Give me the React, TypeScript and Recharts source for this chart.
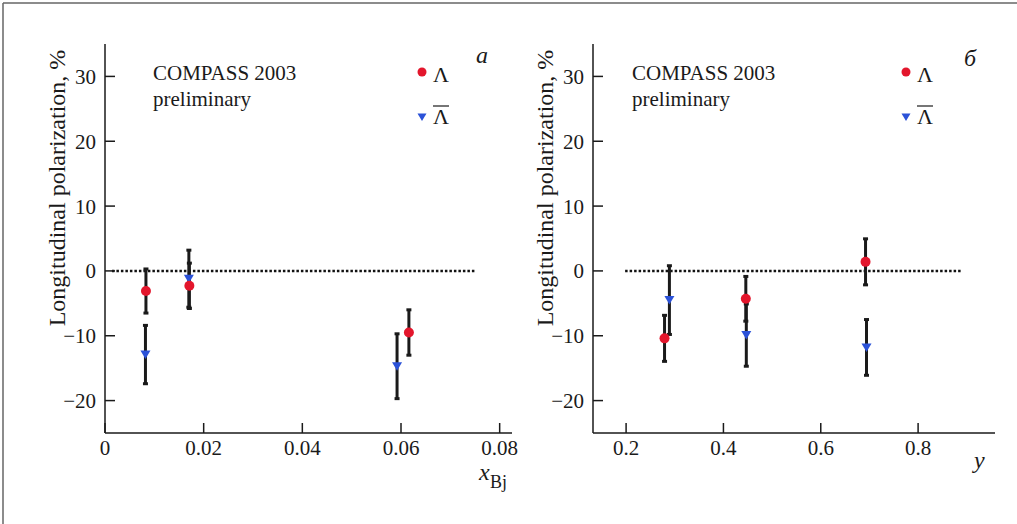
import React from "react";
import {
  ScatterChart,
  Scatter,
  XAxis,
  YAxis,
  ErrorBar,
  ReferenceLine,
} from "recharts";

// panel a: polarization vs x_Bj
const xbjLambda = [0.0083, 0.0171, 0.0616];
const polLambdaA = [-3.1, -2.3, -9.5];
const errLambdaA = [3.4, 3.5, 3.5];
const xbjAnti = [0.0082, 0.017, 0.0592];
const polAntiA = [-12.9, -1.2, -14.7];
const errAntiA = [4.5, 4.4, 5.0];

// panel б: polarization vs y
const yLambda = [0.279, 0.446, 0.692];
const polLambdaB = [-10.4, -4.3, 1.4];
const errLambdaB = [3.55, 3.45, 3.55];
const yAnti = [0.289, 0.447, 0.694];
const polAntiB = [-4.5, -9.9, -11.8];
const errAntiB = [5.3, 4.8, 4.3];

const yTicks = [-20, -10, 0, 10, 20, 30];
const xbjTicks = [0, 0.02, 0.04, 0.06, 0.08];
const yvarTicks = [0.2, 0.4, 0.6, 0.8];

const FONT = "'Liberation Serif', 'Times New Roman', serif";
const RED = "#e3162c";
const BLUE = "#2b52d8";
const INK = "#1a1a1a";

const zip = (xs: number[], ps: number[], es: number[]) =>
  xs.map((x, i) => ({ x, p: ps[i], err: es[i] }));

const Dot = (props: any) => (
  <circle cx={props.cx} cy={props.cy} r={5} fill={RED} />
);

const Tri = (props: any) => {
  const { cx, cy } = props;
  return (
    <polygon
      points={`${cx - 5},${cy - 4} ${cx + 5},${cy - 4} ${cx},${cy + 4.5}`}
      fill={BLUE}
    />
  );
};

const fmtY = (v: number) => (v < 0 ? "\u2212" + Math.abs(v) : String(v));

function Panel({
  width,
  rightGap,
  domain,
  ticks,
  fmt,
  lambda,
  anti,
  zeroFrom,
  zeroTo,
}: {
  width: number;
  rightGap: number;
  domain: [number, number];
  ticks: number[];
  fmt: (v: number) => string;
  lambda: { x: number; p: number; err: number }[];
  anti: { x: number; p: number; err: number }[];
  zeroFrom: number;
  zeroTo: number;
}) {
  const tickStyle = { fontFamily: FONT, fontSize: 21, fill: INK };
  return (
    <ScatterChart
      width={width}
      height={524}
      margin={{ top: 44, right: rightGap, bottom: 61, left: 45 }}
    >
      <XAxis
        type="number"
        dataKey="x"
        domain={domain}
        ticks={ticks}
        tickFormatter={fmt}
        allowDataOverflow
        stroke={INK}
        strokeWidth={1.5}
        tickSize={-10}
        tickMargin={17}
        tick={tickStyle}
      />
      <YAxis
        type="number"
        dataKey="p"
        domain={[-25, 35]}
        ticks={yTicks}
        tickFormatter={fmtY}
        allowDataOverflow
        stroke={INK}
        strokeWidth={1.5}
        tickSize={-10}
        tickMargin={19}
        tick={tickStyle}
        width={60}
      />
      <ReferenceLine
        segment={[
          { x: zeroFrom, y: 0 },
          { x: zeroTo, y: 0 },
        ]}
        stroke="#111"
        strokeWidth={2.5}
        strokeDasharray="2.5 2"
      />
      <Scatter data={anti} shape={Tri} isAnimationActive={false}>
        <ErrorBar dataKey="err" direction="y" width={2.5} strokeWidth={3} stroke={INK} />
      </Scatter>
      <Scatter data={lambda} shape={Dot} isAnimationActive={false}>
        <ErrorBar dataKey="err" direction="y" width={2.5} strokeWidth={3} stroke={INK} />
      </Scatter>
    </ScatterChart>
  );
}

function Legend({ x }: { x: number }) {
  return (
    <g>
      <circle cx={x} cy={72} r={4.5} fill={RED} />
      <text x={x + 11} y={82} fontSize={22}>Λ</text>
      <polygon points={`${x - 4.5},${113.5} ${x + 4.5},${113.5} ${x},${121}`} fill={BLUE} />
      <line x1={x + 11} x2={x + 27} y1={106} y2={106} stroke={INK} strokeWidth={1.2} />
      <text x={x + 11} y={124} fontSize={22}>Λ</text>
    </g>
  );
}

export default function App() {
  return (
    <div
      style={{
        position: "absolute",
        left: 0,
        top: 0,
        width: 1017,
        height: 524,
        background: "#fff",
        fontFamily: FONT,
      }}
    >
      <div style={{ position: "absolute", left: 0, top: 0 }}>
        <Panel
          width={520}
          rightGap={8}
          domain={[0, 0.0825]}
          ticks={xbjTicks}
          fmt={(v) => (v === 0 ? "0" : v.toFixed(2))}
          lambda={zip(xbjLambda, polLambdaA, errLambdaA)}
          anti={zip(xbjAnti, polAntiA, errAntiA)}
          zeroFrom={0.0014}
          zeroTo={0.075}
        />
      </div>
      <div style={{ position: "absolute", left: 488, top: 0 }}>
        <Panel
          width={529}
          rightGap={22}
          domain={[0.132, 0.958]}
          ticks={yvarTicks}
          fmt={(v) => v.toFixed(1)}
          lambda={zip(yLambda, polLambdaB, errLambdaB)}
          anti={zip(yAnti, polAntiB, errAntiB)}
          zeroFrom={0.198}
          zeroTo={0.891}
        />
      </div>
      <svg
        width={1017}
        height={524}
        style={{ position: "absolute", left: 0, top: 0, pointerEvents: "none" }}
        fontFamily={FONT}
        fill={INK}
      >
        <line x1={3} y1={3} x2={1017} y2={3} stroke="#666" strokeWidth={1.5} />
        <line x1={3} y1={3} x2={3} y2={524} stroke="#666" strokeWidth={1.5} />

        <text transform="translate(65,188) rotate(-90)" textAnchor="middle" fontSize={24}>
          Longitudinal polarization, %
        </text>
        <text transform="translate(553,188) rotate(-90)" textAnchor="middle" fontSize={24}>
          Longitudinal polarization, %
        </text>

        <text x={153} y={80} fontSize={21}>COMPASS 2003</text>
        <text x={153} y={106} fontSize={21}>preliminary</text>
        <text x={632} y={80} fontSize={21}>COMPASS 2003</text>
        <text x={632} y={106} fontSize={21}>preliminary</text>

        <Legend x={422} />
        <Legend x={906} />

        <text x={476} y={63} fontSize={24} fontStyle="italic">a</text>
        <text x={964} y={66} fontSize={24} fontStyle="italic">б</text>

        <text x={479} y={480} fontSize={24} fontStyle="italic">x</text>
        <text x={490} y={488} fontSize={18}>Bj</text>
        <text x={974} y={468} fontSize={24} fontStyle="italic">y</text>
      </svg>
    </div>
  );
}
